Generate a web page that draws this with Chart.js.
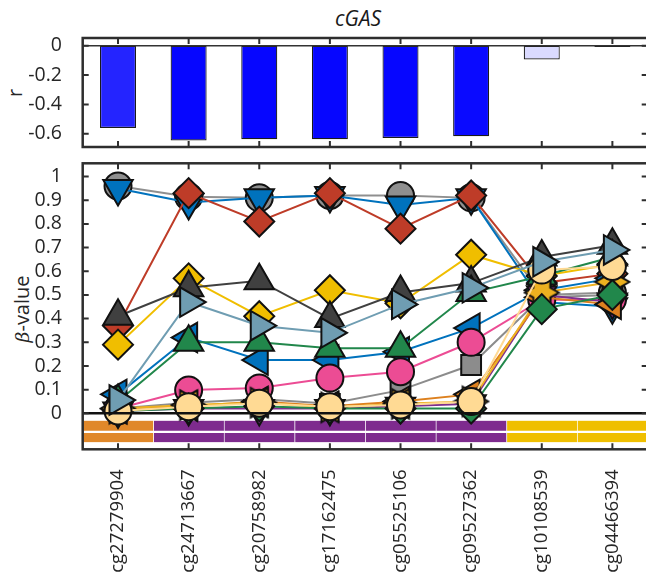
<!DOCTYPE html>
<html><head><meta charset="utf-8">
<script src="https://cdn.jsdelivr.net/npm/chart.js@4.4.1/dist/chart.umd.min.js"></script>
<style>
html,body{margin:0;padding:0;background:#fff;overflow:hidden;width:646px;height:575px;position:relative;}
canvas{position:absolute;left:0;}
#cTop{top:0;}
#cBot{top:150px;}
.lbl{position:absolute;white-space:nowrap;font-family:"Open Sans";color:#262626;transform:translate(-50%,-50%) rotate(-90deg);}
#title{position:absolute;left:0;top:6px;width:716px;text-align:center;font:italic 21px "Open Sans";line-height:24px;color:#1a1a1a;}
</style></head><body>
<div id="title">cGAS</div>
<div class="lbl" style="left:14px;top:93px;font-size:20px;">r</div>
<div class="lbl" style="left:21px;top:309px;font-size:20px;"><i style="font-family:'DejaVu Serif';font-size:19px">β</i>-value</div>
<canvas id="cTop" width="660" height="160"></canvas>
<canvas id="cBot" width="660" height="425"></canvas>
<script>
// ---------- data ----------
const categories = ['cg27279904','cg24713667','cg20758982','cg17162475','cg05525106','cg09527362','cg10108539','cg04466394'];
const rValues   = [-0.56, -0.646, -0.637, -0.637, -0.628, -0.616, -0.093, -0.008];
const barColors = ['#2424FF','#0606FF','#0606FF','#0606FF','#0606FF','#0A0AFF','#DADAFF','#F4F4FF'];
const rTicks    = [0, -0.2, -0.4, -0.6];
const betaTicks = [0, 0.1, 0.2, 0.3, 0.4, 0.5, 0.6, 0.7, 0.8, 0.9, 1];

// region strip below the beta panel (category groups)
const regionColors = ['#E0882A','#7E2B8E','#7E2B8E','#7E2B8E','#7E2B8E','#7E2B8E','#EFBF00','#EFBF00'];
const stripRow1 = [-0.031, -0.074];
const stripRow2 = [-0.083, -0.122];

// beta-value series
const grayCircle   = [0.96, 0.915, 0.91, 0.92, 0.92, 0.91, 0.50, 0.51];
const blueDown     = [0.95, 0.89, 0.91, 0.92, 0.88, 0.91, 0.47, 0.45];
const redDiamond   = [0.37, 0.93, 0.81, 0.93, 0.78, 0.92, 0.55, 0.59];
const yellowDiam   = [0.29, 0.57, 0.41, 0.52, 0.465, 0.67, 0.58, 0.63];
const darkTri      = [0.41, 0.53, 0.56, 0.40, 0.51, 0.55, 0.66, 0.71];
const blueLeft     = [0.08, 0.32, 0.225, 0.225, 0.26, 0.36, 0.52, 0.57];
const greenTri     = [0.05, 0.30, 0.30, 0.275, 0.275, 0.51, 0.58, 0.66];
const graySquare   = [0.02, 0.045, 0.06, 0.04, 0.098, 0.204, 0.49, 0.50];
const pinkCircle   = [0.02, 0.098, 0.107, 0.149, 0.176, 0.30, 0.48, 0.48];
const purpleDown   = [0.01, 0.02, 0.02, 0.02, 0.03, 0.04, 0.50, 0.47];
const orangeLeft   = [0.02, 0.03, 0.05, 0.03, 0.05, 0.08, 0.49, 0.46];
const yellowStar   = [0.02, 0.035, 0.045, 0.025, 0.04, 0.05, 0.51, 0.555];
const greenDiamond = [0.01, 0.02, 0.03, 0.02, 0.02, 0.02, 0.44, 0.50];
const peachCircle  = [0.01, 0.028, 0.043, 0.028, 0.035, 0.05, 0.605, 0.62];
const steelRight   = [0.056, 0.47, 0.37, 0.34, 0.46, 0.53, 0.64, 0.69];

// ---------- styles (bottom-most first) ----------
function hexagram(fill){
  const c = document.createElement('canvas'); c.width = 38; c.height = 38;
  const g = c.getContext('2d'); const R = 17, r = R/Math.sqrt(3);
  g.beginPath();
  for (let k = 0; k < 12; k++){
    const a = k*Math.PI/6; const rr = k%2===0 ? R : r;
    const px = 19 + rr*Math.cos(a), py = 19 + rr*Math.sin(a);
    k===0 ? g.moveTo(px,py) : g.lineTo(px,py);
  }
  g.closePath(); g.fillStyle = fill; g.fill(); g.lineWidth = 2; g.strokeStyle = '#111'; g.stroke();
  return c;
}
const series = [
  {d: grayCircle,   c:'#8F8F8F', s:'circle',   rot:0,   r:13.5},
  {d: blueDown,     c:'#0072BD', s:'triangle', rot:180, r:17},
  {d: redDiamond,   c:'#BE3C28', s:'rectRot',  rot:0,   r:15},
  {d: yellowDiam,   c:'#F0BE00', s:'rectRot',  rot:0,   r:15},
  {d: darkTri,      c:'#404040', s:'triangle', rot:0,   r:17},
  {d: blueLeft,     c:'#0072BD', s:'triangle', rot:270, r:17},
  {d: greenTri,     c:'#21874B', s:'triangle', rot:0,   r:17},
  {d: graySquare,   c:'#8C8C8C', s:'rect',     rot:0,   r:14},
  {d: pinkCircle,   c:'#EC4C94', s:'circle',   rot:0,   r:13.5},
  {d: purpleDown,   c:'#7E2F8E', s:'triangle', rot:180, r:17},
  {d: orangeLeft,   c:'#DD801E', s:'triangle', rot:270, r:17},
  {d: yellowStar,   c:'#EDB120', s:hexagram('#EDB120'), rot:0, r:17},
  {d: greenDiamond, c:'#21874B', s:'rectRot',  rot:0,   r:15},
  {d: peachCircle,  c:'#FFDA94', s:'circle',   rot:0,   r:13.5},
  {d: steelRight,   c:'#6F9DB2', s:'triangle', rot:90,  r:17},
];

const FONT = {family:'"Open Sans"', size:19.5};
const XFONT = {family:'"Open Sans"', size:18.5};
const TXT = '#262626';
const noPad = s => { s.paddingTop = 0; s.paddingBottom = 0; s.paddingLeft = 0; s.paddingRight = 0; };

const framePlugin = {
  id: 'frame',
  afterDatasetsDraw(chart, args, opts){
    const {ctx, chartArea:a} = chart; const x = chart.scales.x, y = chart.scales.y;
    ctx.save();
    if (opts.zero){
      const z = y.getPixelForValue(0);
      ctx.strokeStyle = opts.zero.color; ctx.lineWidth = opts.zero.width;
      ctx.beginPath(); ctx.moveTo(a.left, z); ctx.lineTo(a.right, z); ctx.stroke();
    }
    ctx.strokeStyle = '#2e2e2e'; ctx.lineWidth = 2.5;
    ctx.strokeRect(a.left, a.top, a.right - a.left, a.bottom - a.top);
    const L = 6; ctx.lineWidth = 2;
    ctx.beginPath();
    x.ticks.forEach((t,i)=>{ const px = x.getPixelForTick(i);
      ctx.moveTo(px, a.top); ctx.lineTo(px, a.top + L);
      ctx.moveTo(px, a.bottom); ctx.lineTo(px, a.bottom - L); });
    y.ticks.forEach((t,i)=>{ const py = y.getPixelForTick(i);
      ctx.moveTo(a.left, py); ctx.lineTo(a.left + L, py);
      ctx.moveTo(a.right, py); ctx.lineTo(a.right - L, py); });
    ctx.stroke();
    ctx.restore();
  }
};

// ---------- top: correlation bars ----------
new Chart(document.getElementById('cTop'), {
  type: 'bar',
  data: { labels: categories, datasets: [{
    data: rValues, backgroundColor: barColors, borderColor: '#1a1a1a', borderWidth: 1.2,
    barPercentage: 0.51, categoryPercentage: 1, borderSkipped: false
  }]},
  options: {
    responsive: false, animation: false, events: [],
    layout: { autoPadding: false, padding: {left: 0, top: 38, right: 12.3, bottom: 13} },
    plugins: { legend: {display:false}, tooltip: {enabled:false}, frame: { zero: {color:'#333', width:1.5} } },
    scales: {
      x: { type:'category', offset:true, grid:{display:false}, border:{display:false},
           ticks:{display:false}, afterFit: s => { s.height = 0; noPad(s); } },
      y: { min: -0.69, max: 0.053, grid:{display:false}, border:{display:false},
           afterBuildTicks: s => { s.ticks = rTicks.map(v => ({value:v})); },
           ticks:{ font: FONT, color: TXT, padding: 12.7, callback: v => String(v) },
           afterFit: s => { s.width = 82.7; noPad(s); } }
    }
  },
  plugins: [framePlugin]
});

// ---------- bottom: beta values ----------
const stripSets = [stripRow1, stripRow2].map(row => ({
  type: 'bar', data: categories.map(() => row), backgroundColor: regionColors,
  borderColor: 'rgba(255,255,255,0.3)', borderWidth: {left:1, right:0, top:0, bottom:0}, borderSkipped: false,
  barPercentage: 1, categoryPercentage: 1, grouped: false, order: 100
}));
const lineSets = series.map((o, k) => ({
  type: 'line', data: o.d, borderColor: o.c, borderWidth: 2, tension: 0,
  pointStyle: o.s, pointRotation: o.rot, pointRadius: o.r,
  pointBackgroundColor: o.c, pointBorderColor: '#111', pointBorderWidth: 2,
  clip: false, order: series.length - k
}));

new Chart(document.getElementById('cBot'), {
  type: 'line',
  data: { labels: categories, datasets: [...stripSets, ...lineSets] },
  options: {
    responsive: false, animation: false, events: [],
    layout: { autoPadding: false, padding: {left: 0, top: 13.3, right: 12.3, bottom: 0} },
    plugins: { legend: {display:false}, tooltip: {enabled:false}, frame: { zero: {color:'#111', width:2.5} } },
    scales: {
      x: { type:'category', offset:true, grid:{display:false}, border:{display:false},
           ticks:{ font: XFONT, color: TXT, padding: 12, minRotation: 90, maxRotation: 90, autoSkip: false },
           afterFit: s => { s.height = 125.7; noPad(s); } },
      y: { min: -0.152, max: 1.056, grid:{display:false}, border:{display:false},
           afterBuildTicks: s => { s.ticks = betaTicks.map(v => ({value:v})); },
           ticks:{ font: FONT, color: TXT, padding: 12.7, callback: v => String(v) },
           afterFit: s => { s.width = 82.7; noPad(s); } }
    }
  },
  plugins: [framePlugin]
});
</script>
</body></html>
